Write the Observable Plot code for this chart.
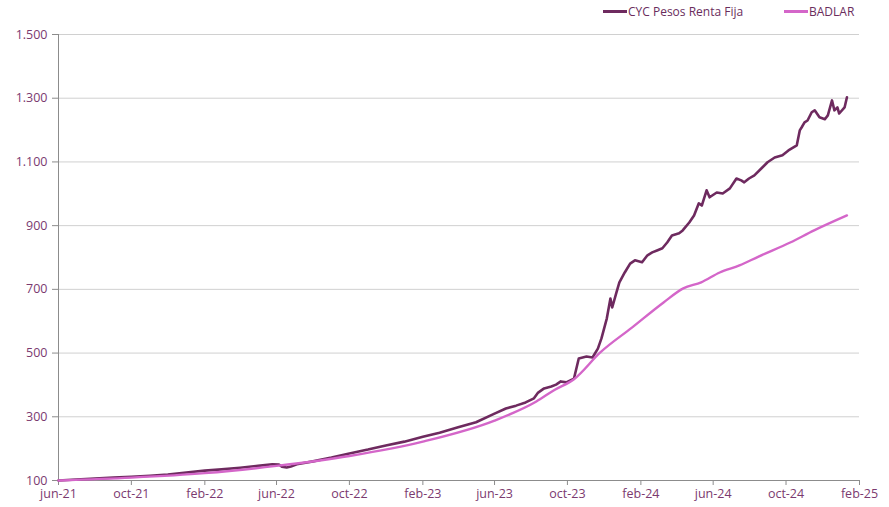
<!DOCTYPE html>
<html>
<head>
<meta charset="utf-8">
<script src="https://cdn.jsdelivr.net/npm/d3@7"></script>
<script src="https://cdn.jsdelivr.net/npm/@observablehq/plot@0.6"></script>
<style>
  html, body { margin: 0; padding: 0; background: #fff; }
  body { width: 889px; height: 507px; overflow: hidden; font-family: "Open Sans", sans-serif; }
  #legend { position: relative; height: 24px; width: 889px; font-size: 12px; color: #6a2d5d; }
  .item { position: absolute; top: 3px; display: flex; align-items: center; white-space: nowrap; }
  .sw { display: inline-block; width: 24px; height: 3px; margin-right: 1px; }
</style>
</head>
<body>
<div id="legend"></div>
<div id="chart"></div>
<script>
const seriesNames = ["CYC Pesos Renta Fija", "BADLAR"];
const seriesColors = ["#6e2a5f", "#d466c9"];

const cycDates = ["2021-06-01","2021-07-01","2021-08-01","2021-09-01","2021-10-01","2021-11-01","2021-12-01","2022-01-01","2022-02-01","2022-03-01","2022-04-01","2022-05-01","2022-05-25","2022-06-05","2022-06-10","2022-06-18","2022-06-25","2022-07-05","2022-08-01","2022-09-01","2022-10-01","2022-11-01","2022-12-01","2023-01-01","2023-02-01","2023-03-01","2023-04-01","2023-05-01","2023-06-01","2023-06-20","2023-07-07","2023-07-23","2023-08-06","2023-08-13","2023-08-23","2023-09-04","2023-09-12","2023-09-20","2023-09-29","2023-10-12","2023-10-20","2023-11-02","2023-11-12","2023-11-21","2023-11-27","2023-12-06","2023-12-12","2023-12-15","2023-12-22","2023-12-27","2024-01-05","2024-01-14","2024-01-22","2024-02-03","2024-02-12","2024-02-20","2024-02-28","2024-03-08","2024-03-16","2024-03-24","2024-04-05","2024-04-11","2024-04-22","2024-04-30","2024-05-08","2024-05-13","2024-05-21","2024-05-26","2024-06-07","2024-06-17","2024-06-29","2024-07-10","2024-07-18","2024-07-23","2024-07-31","2024-08-09","2024-08-21","2024-08-31","2024-09-12","2024-09-25","2024-10-05","2024-10-19","2024-10-24","2024-10-27","2024-11-01","2024-11-06","2024-11-13","2024-11-18","2024-11-26","2024-12-05","2024-12-10","2024-12-17","2024-12-21","2024-12-26","2024-12-29","2025-01-07","2025-01-11"];
const cycValues = [100,103,106,109,112,115,119,125,131,135,140,146,151,150,143,141,144,151,160,172,185,197,210,222,237,250,267,283,310,326,335,345,358,376,389,395,401,411,408,420,483,489,486,514,546,609,671,643,690,722,753,781,791,785,807,816,822,829,847,869,876,885,910,932,970,963,1011,989,1004,1001,1017,1048,1042,1036,1048,1058,1080,1099,1114,1121,1136,1152,1199,1208,1224,1230,1256,1262,1240,1234,1246,1293,1262,1271,1252,1271,1303];

const badlarDates = ["2021-06-01","2021-10-01","2022-02-01","2022-06-01","2022-10-01","2023-02-01","2023-06-01","2023-08-10","2023-09-10","2023-10-12","2023-11-25","2024-01-17","2024-03-10","2024-04-12","2024-05-12","2024-06-12","2024-07-15","2024-08-16","2024-10-08","2024-11-17","2025-01-11"];
const badlarValues = [100,109,123,146,177,222,288,348,385,418,502,580,659,703,722,753,775,803,847,885,932];

const xTickDates = ["2021-06-01","2021-10-01","2022-02-01","2022-06-01","2022-10-01","2023-02-01","2023-06-01","2023-10-01","2024-02-01","2024-06-01","2024-10-01","2025-02-01"];
const xTickLabels = ["jun-21","oct-21","feb-22","jun-22","oct-22","feb-23","jun-23","oct-23","feb-24","jun-24","oct-24","feb-25"];
const yTicks = [100,300,500,700,900,1100,1300,1500];

const parse = d3.utcParse("%Y-%m-%d");
const cyc = cycDates.map((d, i) => ({date: parse(d), value: cycValues[i]}));
const badlar = badlarDates.map((d, i) => ({date: parse(d), value: badlarValues[i]}));
const xTicks = xTickDates.map(parse);
const labelMap = new Map(xTicks.map((d, i) => [+d, xTickLabels[i]]));
const esFmt = d3.formatLocale({decimal: ",", thousands: ".", grouping: [3], currency: ["$", ""]}).format(",");

const textColor = "#7b3a6f";

const legend = document.getElementById("legend");
const legendX = [603, 784];
seriesNames.forEach((n, i) => {
  const it = document.createElement("div");
  it.className = "item";
  it.style.left = legendX[i] + "px";
  it.innerHTML = `<span class="sw" style="background:${seriesColors[i]}"></span><span>${n}</span>`;
  legend.appendChild(it);
});

const chart = Plot.plot({
  width: 889,
  height: 483,
  marginTop: 10,
  marginBottom: 27,
  marginLeft: 58,
  marginRight: 30,
  style: {fontFamily: "Open Sans, sans-serif", fontSize: "12px", color: textColor, background: "#fff"},
  x: {type: "utc", domain: [xTicks[0], xTicks[xTicks.length - 1]], label: null},
  y: {domain: [100, 1500], label: null},
  marks: [
    Plot.gridY(yTicks, {stroke: "#d0d0d0", strokeOpacity: 1, strokeWidth: 1}),
    Plot.axisY(yTicks, {tickFormat: esFmt, tickSize: 6, tickPadding: 5, stroke: "#8c8c8c", fill: textColor, fontSize: 12.5, label: null}),
    Plot.axisX(xTicks, {tickFormat: d => labelMap.get(+d), tickSize: 5, tickPadding: 4, stroke: "#8c8c8c", fill: textColor, fontSize: 12.5, label: null}),
    Plot.ruleX([xTicks[0]], {stroke: "#8c8c8c"}),
    Plot.ruleY([100], {stroke: "#8c8c8c"}),
    Plot.lineY(cyc, {x: "date", y: "value", stroke: seriesColors[0], strokeWidth: 2.6}),
    Plot.lineY(badlar, {x: "date", y: "value", stroke: seriesColors[1], strokeWidth: 2.4, curve: "monotone-x"})
  ]
});
document.getElementById("chart").appendChild(chart);
</script>
</body>
</html>
